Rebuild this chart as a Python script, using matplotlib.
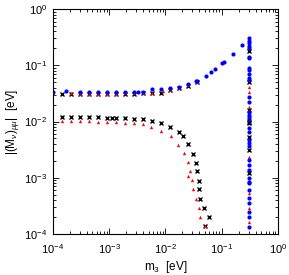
import matplotlib
matplotlib.use("Agg")
import matplotlib.pyplot as plt
import numpy as np

plt.rcParams['font.family'] = ['Liberation Sans', 'DejaVu Sans']
plt.rcParams['mathtext.fontset'] = 'custom'
plt.rcParams['mathtext.rm'] = 'Liberation Sans'
plt.rcParams['mathtext.it'] = 'Liberation Sans:italic'

# upper branch, blue circles
m3_blue = [1.00e-4, 1.70e-4, 3.02e-4, 4.37e-4, 6.31e-4, 9.12e-4, 1.32e-3, 1.91e-3,
           2.75e-3, 3.24e-3, 3.98e-3, 5.69e-3, 8.32e-3, 1.20e-2, 1.74e-2, 2.51e-2,
           3.44e-2, 3.67e-2, 5.25e-2, 6.44e-2, 7.59e-2, 0.102, 0.111, 0.157, 0.226]
M_blue = [0.0334, 0.0349, 0.0334, 0.0334, 0.0334, 0.0334, 0.0334, 0.0334,
          0.0334, 0.0341, 0.0341, 0.0374, 0.0378, 0.0394, 0.0416, 0.0464,
          0.0519, 0.0531, 0.0644, 0.0749, 0.0848, 0.108, 0.116, 0.157, 0.229]

# upper branch, black crosses
m3_black_up = [1.45e-4, 2.09e-4, 3.02e-4, 4.37e-4, 6.31e-4, 9.12e-4, 1.32e-3, 1.91e-3,
               2.75e-3, 3.98e-3, 5.69e-3, 8.32e-3, 1.20e-2, 1.74e-2, 2.51e-2, 3.67e-2]
M_black_up = [0.0308, 0.0312, 0.0310, 0.0310, 0.0310, 0.0311, 0.0312, 0.0312,
              0.0314, 0.0318, 0.0325, 0.0327, 0.0362, 0.0387, 0.0427, 0.0497]

# upper branch, red triangles
m3_red_up = [1.00e-4, 2.09e-4, 3.02e-4, 4.37e-4, 6.31e-4, 9.12e-4, 1.32e-3, 1.91e-3,
             2.75e-3, 3.98e-3, 5.69e-3, 8.90e-3, 1.20e-2, 1.74e-2, 2.51e-2, 3.67e-2]
M_red_up = [0.0320, 0.0318, 0.0314, 0.0314, 0.0314, 0.0315, 0.0315, 0.0316,
            0.0318, 0.0322, 0.0328, 0.0350, 0.0370, 0.0395, 0.0440, 0.0510]

# lower branch, black crosses
m3_black_lo = [1.45e-4, 2.09e-4, 3.02e-4, 4.37e-4, 6.31e-4, 9.12e-4, 1.12e-3, 1.32e-3,
               1.91e-3, 2.75e-3, 3.98e-3, 5.80e-3, 8.32e-3, 1.20e-2, 1.74e-2, 2.01e-2,
               0.0254, 0.0312, 0.0348, 0.0367, 0.0389, 0.0399, 0.0410, 0.0489, 0.0601, 0.0503]
M_black_lo = [0.0122, 0.0122, 0.0121, 0.0120, 0.0119, 0.0118, 0.0118, 0.0117,
              0.0115, 0.0113, 0.0110, 0.0102, 0.0093, 0.0081, 0.0064, 0.0056,
              0.00398, 0.00268, 0.00185, 0.00132, 0.000887, 0.000624, 0.000425,
              0.000294, 0.000203, 0.000139]

# lower branch, red triangles
m3_red_lo = [1.45e-4, 2.09e-4, 3.02e-4, 4.37e-4, 6.31e-4, 9.12e-4, 1.32e-3, 1.91e-3,
             2.75e-3, 3.98e-3, 5.52e-3, 8.32e-3, 1.24e-2, 1.69e-2, 0.0216, 0.0248,
             0.0276, 0.0254, 0.0299, 0.0312, 0.0348, 0.0394, 0.0410, 0.0503]
M_red_lo = [0.0103, 0.0103, 0.0102, 0.0101, 0.0100, 0.0099, 0.0097, 0.0095,
            0.0093, 0.0090, 0.00809, 0.00686, 0.0056, 0.00382, 0.00272, 0.00188,
            0.0013, 0.00109, 0.000901, 0.000624, 0.000425, 0.000294, 0.000203, 0.000139]

# vertical strip at the largest m3
m3_max = 0.30
M_vert_blue = [0.301, 0.274, 0.245, 0.220, 0.200, 0.142, 0.133, 0.0906, 0.0824, 0.0690,
               0.0601, 0.0547, 0.0276, 0.0225, 0.0146, 0.0130, 0.0122, 0.0109, 0.00777,
               0.00659, 0.00469, 0.00420, 0.00367, 0.00207, 0.00169, 0.00137, 0.000977,
               0.000852, 0.000796, 0.000605, 0.000431, 0.000351, 0.000249, 0.000203,
               0.000135]
M_vert_black = [0.182, 0.0497, 0.0160, 0.00993, 0.00927, 0.00537, 0.00311, 0.00120]
M_vert_red = [0.0416, 0.0339, 0.0184, 0.00237, 0.000528, 0.000286, 0.000166]

fig = plt.figure(figsize=(2.89, 2.75), dpi=100)
ax = fig.add_axes([0.183, 0.149, 0.779, 0.818])

kw_b = dict(color='black', marker='x', ms=2.4, mew=1.0, ls='none')
kw_r = dict(color='red', marker='^', ms=2.4, mew=0, ls='none')
kw_c = dict(color='blue', marker='o', ms=3.0, mew=0, ls='none')

ax.plot(m3_black_up, M_black_up, **kw_b)
ax.plot(m3_black_lo, M_black_lo, **kw_b)
ax.plot(np.full(len(M_vert_black), m3_max), M_vert_black, **kw_b)
ax.plot(m3_red_up, M_red_up, **kw_r)
ax.plot(m3_red_lo, M_red_lo, **kw_r)
ax.plot(np.full(len(M_vert_red), m3_max), M_vert_red, **kw_r)
ax.plot(m3_blue, M_blue, **kw_c)
ax.plot(np.full(len(M_vert_blue), m3_max), M_vert_blue, **kw_c)

ax.set_xscale('log')
ax.set_yscale('log')
ax.set_xlim(1e-4, 1)
ax.set_ylim(1e-4, 1)
ax.tick_params(which='both', direction='in', top=True, right=True, labelsize=8, width=0.6)
ax.tick_params(which='major', length=4, pad=4)
ax.tick_params(axis='x', which='major', pad=6)
ax.tick_params(which='minor', length=2)
for s in ax.spines.values():
    s.set_linewidth(0.8)

ax.set_xlabel(r'm$_3$  [eV]', fontsize=8.5, labelpad=2)
ax.set_ylabel(r'|(M$_\nu$)$_{\mu\mu}$|  [eV]', fontsize=8.5, labelpad=2)

fig.savefig('out.png', dpi=100)
